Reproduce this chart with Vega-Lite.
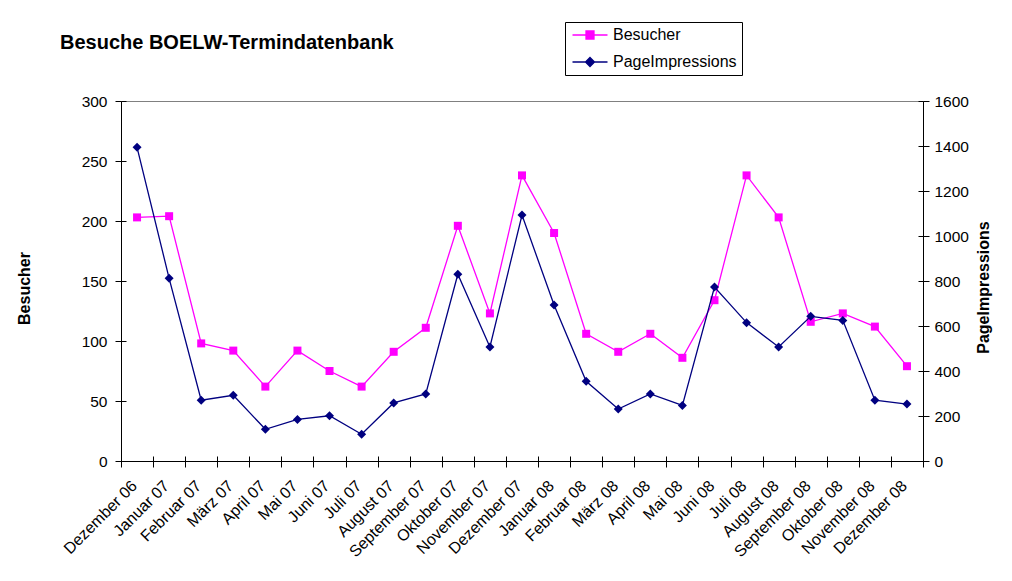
{
  "$schema": "https://vega.github.io/schema/vega-lite/v6.json",
  "width": 802,
  "height": 360,
  "autosize": "none",
  "padding": {"left": 121, "top": 101, "right": 89, "bottom": 120},
  "background": "white",
  "config": {
    "font": "Liberation Sans",
    "view": {"fill": "#C0C0C0", "stroke": "#808080", "strokeWidth": 1},
    "axis": {
      "domainColor": "black", "tickColor": "black", "labelColor": "black", "titleColor": "black",
      "grid": false, "labelFont": "Liberation Sans", "titleFont": "Liberation Sans",
      "labelFontSize": 15.5, "titleFontSize": 16, "titleFontWeight": "bold",
      "domainWidth": 1, "tickWidth": 1, "tickSize": 6
    }
  },
  "title": {
    "text": "Besuche BOELW-Termindatenbank",
    "anchor": "start", "frame": "group", "fontSize": 20, "fontWeight": "bold",
    "font": "Liberation Sans", "color": "black", "dx": -61, "baseline": "alphabetic", "offset": 0, "dy": 47
  },
  "datasets": {
    "visits": [
      {"month": "Dezember 06", "Besucher": 203, "PageImpressions": 1394},
      {"month": "Januar 07", "Besucher": 204, "PageImpressions": 812},
      {"month": "Februar 07", "Besucher": 98, "PageImpressions": 270},
      {"month": "März 07", "Besucher": 92, "PageImpressions": 292},
      {"month": "April 07", "Besucher": 62, "PageImpressions": 141},
      {"month": "Mai 07", "Besucher": 92, "PageImpressions": 185},
      {"month": "Juni 07", "Besucher": 75, "PageImpressions": 201},
      {"month": "Juli 07", "Besucher": 62, "PageImpressions": 119},
      {"month": "August 07", "Besucher": 91, "PageImpressions": 258},
      {"month": "September 07", "Besucher": 111, "PageImpressions": 298},
      {"month": "Oktober 07", "Besucher": 196, "PageImpressions": 830},
      {"month": "November 07", "Besucher": 123, "PageImpressions": 507},
      {"month": "Dezember 07", "Besucher": 238, "PageImpressions": 1093},
      {"month": "Januar 08", "Besucher": 190, "PageImpressions": 693},
      {"month": "Februar 08", "Besucher": 106, "PageImpressions": 354},
      {"month": "März 08", "Besucher": 91, "PageImpressions": 231},
      {"month": "April 08", "Besucher": 106, "PageImpressions": 298},
      {"month": "Mai 08", "Besucher": 86, "PageImpressions": 247},
      {"month": "Juni 08", "Besucher": 134, "PageImpressions": 773},
      {"month": "Juli 08", "Besucher": 238, "PageImpressions": 615},
      {"month": "August 08", "Besucher": 203, "PageImpressions": 507},
      {"month": "September 08", "Besucher": 116, "PageImpressions": 643},
      {"month": "Oktober 08", "Besucher": 123, "PageImpressions": 625},
      {"month": "November 08", "Besucher": 112, "PageImpressions": 270},
      {"month": "Dezember 08", "Besucher": 79, "PageImpressions": 253}
    ],
    "legend": [
      {"series": "Besucher"},
      {"series": "PageImpressions"}
    ]
  },
  "layer": [
    {
      "data": {"name": "visits"},
      "mark": {"type": "point", "opacity": 0},
      "encoding": {
        "x": {"field": "month", "type": "nominal", "sort": null,
          "scale": {"type": "band", "paddingInner": 0, "paddingOuter": 0},
          "axis": {"orient": "top", "offset": -360, "tickSize": 5, "labels": false, "domain": false,
            "tickBand": "extent", "title": null}},
        "y": {"field": "Besucher", "type": "quantitative",
          "scale": {"domain": [0, 300], "nice": false, "zero": true},
          "axis": {"orient": "right", "offset": -802, "tickSize": 5, "labels": false, "domain": false,
            "values": [0, 50, 100, 150, 200, 250, 300], "title": null}}
      }
    },
    {
      "data": {"name": "visits"},
      "mark": {"type": "point", "opacity": 0},
      "encoding": {
        "x": {"field": "month", "type": "nominal", "sort": null, "axis": null},
        "y": {"field": "PageImpressions", "type": "quantitative",
          "scale": {"domain": [0, 1600], "nice": false, "zero": true},
          "axis": {"orient": "left", "offset": -802, "tickSize": 5, "labels": false, "domain": false,
            "values": [0, 200, 400, 600, 800, 1000, 1200, 1400, 1600], "title": null}}
      }
    },
    {
      "data": {"name": "visits"},
      "mark": {"type": "line", "color": "#FF00FF", "strokeWidth": 1.3,
        "point": {"shape": "square", "size": 64, "filled": true, "color": "#FF00FF"}},
      "encoding": {
        "x": {"field": "month", "type": "nominal", "sort": null,
          "axis": {"title": null, "labelAngle": -45, "labelAlign": "right", "labelBaseline": "middle",
            "labelFontSize": 16, "labelOffset": -3,
            "tickBand": "extent", "labelPadding": 16, "labelOverlap": false, "labelLimit": 300}},
        "y": {"field": "Besucher", "type": "quantitative",
          "scale": {"domain": [0, 300], "nice": false, "zero": true},
          "axis": {"values": [0, 50, 100, 150, 200, 250, 300], "title": "Besucher", "labelPadding": 8,
            "titleAngle": -90, "titleX": -92, "titleY": 187, "titleBaseline": "alphabetic", "titleAlign": "center"}}
      }
    },
    {
      "data": {"name": "visits"},
      "mark": {"type": "line", "color": "#000080", "strokeWidth": 1.3,
        "point": {"shape": "diamond", "size": 81, "filled": true, "color": "#000080"}},
      "encoding": {
        "x": {"field": "month", "type": "nominal", "sort": null, "axis": null},
        "y": {"field": "PageImpressions", "type": "quantitative",
          "scale": {"domain": [0, 1600], "nice": false, "zero": true},
          "axis": {"orient": "right", "values": [0, 200, 400, 600, 800, 1000, 1200, 1400, 1600],
            "format": "d", "title": "PageImpressions", "labelPadding": 5,
            "titleAngle": -90, "titleX": 65, "titleY": 186, "titleBaseline": "alphabetic", "titleAlign": "center"}}
      }
    },
    {
      "data": {"name": "legend"},
      "mark": {"type": "point", "opacity": 0, "filled": true},
      "encoding": {
        "fill": {"field": "series", "type": "nominal",
          "scale": {"domain": ["Besucher", "PageImpressions"], "range": ["#FF00FF", "#000080"]},
          "legend": {"title": null, "orient": "none", "legendX": 444, "legendY": -79,
            "labelFontSize": 16, "labelFont": "Liberation Sans", "labelColor": "black",
            "symbolSize": 100, "symbolStrokeWidth": 1.3, "symbolOpacity": 1,
            "strokeColor": "black", "fillColor": "white", "padding": 5, "rowPadding": 11,
            "labelOffset": 15, "symbolOffset": 12}},
        "stroke": {"field": "series", "type": "nominal",
          "scale": {"domain": ["Besucher", "PageImpressions"], "range": ["#FF00FF", "#000080"]},
          "legend": {"title": null, "orient": "none", "legendX": 444, "legendY": -79,
            "labelFontSize": 16, "labelFont": "Liberation Sans", "labelColor": "black",
            "symbolSize": 100, "symbolStrokeWidth": 1.3, "symbolOpacity": 1,
            "strokeColor": "black", "fillColor": "white", "padding": 5, "rowPadding": 11,
            "labelOffset": 15, "symbolOffset": 12}},
        "shape": {"field": "series", "type": "nominal",
          "scale": {"domain": ["Besucher", "PageImpressions"],
            "range": ["M-3.5,0L3.5,0M-0.8,-0.8L0.8,-0.8L0.8,0.8L-0.8,0.8Z", "M-3.5,0L3.5,0M0,-0.9L0.9,0L0,0.9L-0.9,0Z"]},
          "legend": {"title": null, "orient": "none", "legendX": 444, "legendY": -79,
            "labelFontSize": 16, "labelFont": "Liberation Sans", "labelColor": "black",
            "symbolSize": 100, "symbolStrokeWidth": 1.3, "symbolOpacity": 1,
            "strokeColor": "black", "fillColor": "white", "padding": 5, "rowPadding": 11,
            "labelOffset": 15, "symbolOffset": 12}}
      }
    }
  ],
  "resolve": {"scale": {"y": "independent"}, "axis": {"x": "independent", "y": "independent"}}
}
